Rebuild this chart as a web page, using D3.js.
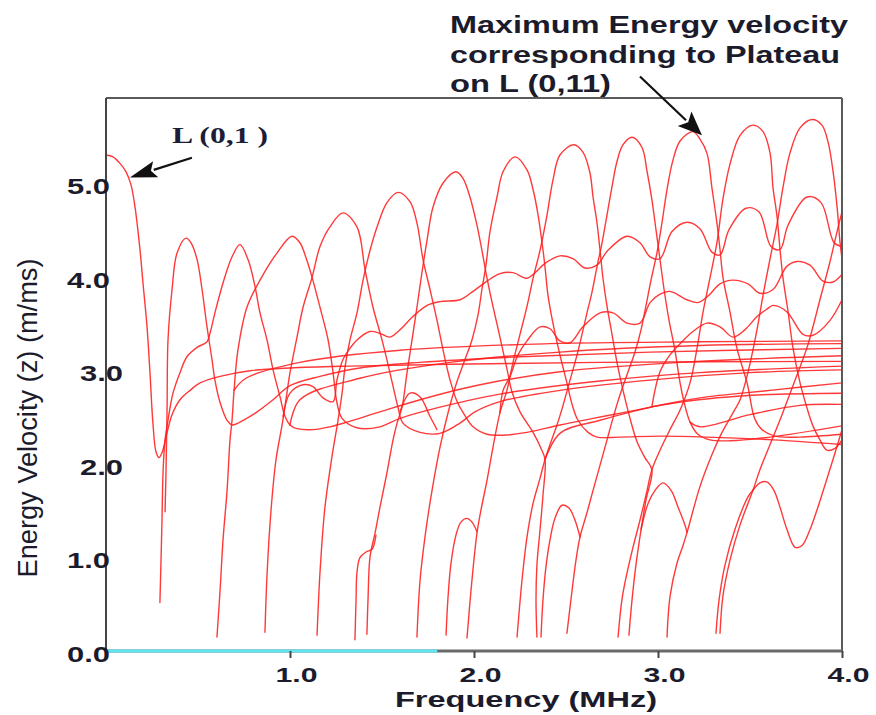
<!DOCTYPE html>
<html>
<head>
<meta charset="utf-8">
<script src="https://cdn.jsdelivr.net/npm/d3@7"></script>
<style>
  html, body { margin: 0; padding: 0; background: #ffffff; }
  svg { display: block; }
</style>
</head>
<body>
<svg id="chart" width="876" height="715"></svg>
<script>
// Energy velocity (m/ms) against frequency (MHz) for the longitudinal L(0,n) modes.
// Each branch is a list of [frequency, energyVelocity] pairs.

const xTicks = [1.0, 2.0, 3.0, 4.0];
const yTicks = [0.0, 1.0, 2.0, 3.0, 4.0, 5.0];
const cyanBandEnd = 1.8;

const lz01 = [[0,5.31],[0.038,5.29],[0.076,5.22],[0.109,5.13],[0.136,4.99],[0.158,4.75],[0.185,4.29],[0.201,3.94],[0.223,3.47],[0.239,2.98],[0.255,2.44],[0.272,2.13],[0.288,2.07],[0.304,2.12],[0.332,2.34],[0.359,2.53],[0.402,2.69],[0.457,2.79],[0.511,2.87],[0.620,2.94],[0.783,3.00],[1.000,3.03],[1.326,3.05],[1.870,3.07],[2.685,3.09],[4.000,3.10]];

const arch01 = [[0.321,1.49],[0.326,1.91],[0.332,2.61],[0.337,3.33],[0.359,3.87],[0.386,4.26],[0.435,4.42],[0.462,4.37],[0.495,4.19],[0.522,3.87],[0.549,3.47],[0.576,3.12],[0.592,2.90],[0.620,2.66],[0.658,2.47],[0.685,2.42],[0.755,2.48],[0.821,2.56],[0.908,2.69],[1.000,2.84],[1.163,2.94],[1.380,3.03],[1.707,3.09],[2.250,3.15],[2.957,3.20],[4.000,3.24]];

const arch02 = [[0.293,0.52],[0.299,0.97],[0.304,1.37],[0.310,1.91],[0.321,2.26],[0.337,2.47],[0.364,2.76],[0.402,2.98],[0.440,3.15],[0.495,3.25],[0.549,3.31],[0.565,3.40],[0.592,3.62],[0.636,3.94],[0.685,4.22],[0.728,4.35],[0.772,4.19],[0.810,3.90],[0.837,3.62],[0.875,3.33],[0.908,3.01],[0.946,2.72],[0.973,2.51],[1.000,2.42],[1.038,2.38],[1.125,2.37],[1.217,2.40],[1.310,2.45],[1.489,2.56],[1.707,2.69],[2.033,2.85],[2.467,2.99],[3.120,3.09],[4.000,3.16]];

const arch03 = [[0.603,0.15],[0.620,0.65],[0.636,1.19],[0.658,1.72],[0.674,2.26],[0.685,2.47],[0.696,2.79],[0.717,3.22],[0.766,3.68],[0.837,3.97],[0.929,4.26],[1.011,4.44],[1.054,4.37],[1.087,4.21],[1.120,4.00],[1.163,3.68],[1.207,3.33],[1.234,2.98],[1.255,2.66],[1.283,2.49],[1.364,2.39],[1.489,2.40],[1.598,2.49],[1.815,2.61],[2.141,2.75],[2.685,2.89],[3.228,2.98],[4.000,3.05]];

const arch04 = [[0.864,0.20],[0.875,0.81],[0.897,1.51],[0.924,2.05],[0.957,2.42],[0.978,2.69],[1.000,2.98],[1.038,3.36],[1.071,3.68],[1.120,4.00],[1.163,4.33],[1.217,4.54],[1.288,4.69],[1.364,4.54],[1.408,4.08],[1.451,3.68],[1.500,3.33],[1.543,2.98],[1.587,2.61],[1.614,2.44],[1.707,2.34],[1.815,2.33],[1.924,2.44],[2.005,2.56],[2.141,2.67],[2.467,2.79],[2.957,2.90],[3.500,2.98],[4.000,3.01]];

const arch05 = [[1.147,0.17],[1.163,0.84],[1.190,1.54],[1.228,2.08],[1.261,2.47],[1.283,2.76],[1.299,3.04],[1.326,3.33],[1.364,3.62],[1.397,3.97],[1.435,4.29],[1.473,4.54],[1.527,4.80],[1.587,4.91],[1.652,4.81],[1.690,4.58],[1.723,4.19],[1.761,3.87],[1.799,3.54],[1.832,3.22],[1.870,2.90],[1.908,2.67],[1.951,2.52],[1.995,2.40],[2.071,2.32],[2.158,2.31],[2.288,2.34],[2.467,2.42],[2.647,2.49],[2.832,2.56],[2.957,2.61],[3.228,2.71],[3.609,2.79],[4.000,2.87]];

const arch06 = [[1.418,0.18],[1.424,0.55],[1.435,1.01],[1.462,1.26],[1.489,1.54],[1.527,1.91],[1.560,2.26],[1.582,2.44],[1.609,2.61],[1.636,2.98],[1.663,3.33],[1.690,3.68],[1.717,4.05],[1.745,4.40],[1.777,4.75],[1.832,5.01],[1.902,5.13],[1.940,5.06],[1.978,4.86],[2.016,4.56],[2.043,4.29],[2.071,3.99],[2.103,3.69],[2.141,3.36],[2.179,3.02],[2.207,2.77],[2.250,2.56],[2.321,2.34],[2.364,2.17],[2.386,2.05],[2.375,1.67],[2.359,1.30],[2.342,0.92],[2.337,0.55],[2.342,0.15]];

const arch07 = [[1.690,0.15],[1.707,0.76],[1.739,1.30],[1.772,1.72],[1.815,2.18],[1.859,2.55],[1.902,2.85],[1.951,3.12],[1.989,3.33],[2.022,3.60],[2.043,3.87],[2.065,4.13],[2.087,4.49],[2.125,4.86],[2.158,5.13],[2.223,5.29],[2.288,5.15],[2.321,4.94],[2.348,4.67],[2.370,4.37],[2.386,4.11],[2.402,3.81],[2.429,3.51],[2.467,3.17],[2.505,2.87],[2.533,2.64],[2.565,2.47],[2.620,2.34],[2.668,2.29],[2.793,2.29],[3.011,2.30],[3.266,2.29],[3.625,2.26],[4.000,2.21]];

const arch08 = [[1.962,0.14],[1.989,0.76],[2.016,1.26],[2.038,1.51],[2.071,1.83],[2.103,2.18],[2.141,2.55],[2.179,2.79],[2.212,3.09],[2.250,3.39],[2.288,3.69],[2.321,3.99],[2.359,4.29],[2.397,4.67],[2.429,5.04],[2.467,5.31],[2.543,5.42],[2.592,5.34],[2.630,5.12],[2.647,4.86],[2.668,4.59],[2.685,4.29],[2.701,3.99],[2.723,3.69],[2.750,3.39],[2.777,3.09],[2.810,2.79],[2.848,2.49],[2.886,2.24],[2.929,2.07],[2.967,1.94],[2.935,1.62],[2.908,1.30],[2.880,0.92],[2.859,0.55],[2.842,0.17]];

const arch09 = [[2.234,0.15],[2.261,0.76],[2.288,1.22],[2.321,1.58],[2.359,1.85],[2.386,2.05],[2.413,2.21],[2.451,2.42],[2.484,2.63],[2.522,2.90],[2.560,3.17],[2.587,3.39],[2.614,3.62],[2.641,3.84],[2.668,4.11],[2.696,4.37],[2.723,4.67],[2.750,4.97],[2.777,5.24],[2.810,5.42],[2.859,5.50],[2.913,5.39],[2.940,5.14],[2.967,4.83],[2.989,4.51],[3.011,4.19],[3.033,3.87],[3.060,3.54],[3.092,3.22],[3.120,2.87],[3.141,2.67],[3.174,2.45],[3.217,2.32],[3.283,2.26],[3.391,2.25],[3.609,2.29],[4.000,2.41]];

const arch10 = [[2.505,0.19],[2.533,0.65],[2.554,0.97],[2.576,1.22],[2.614,1.48],[2.647,1.72],[2.685,1.99],[2.723,2.26],[2.755,2.49],[2.793,2.74],[2.832,2.96],[2.875,3.20],[2.908,3.44],[2.935,3.70],[2.962,3.97],[2.995,4.27],[3.022,4.59],[3.049,4.94],[3.082,5.26],[3.120,5.46],[3.190,5.56],[3.228,5.48],[3.266,5.33],[3.293,4.96],[3.321,4.57],[3.337,4.30],[3.353,4.00],[3.391,3.63],[3.429,3.24],[3.484,2.87],[3.527,2.48],[3.565,2.37],[3.636,2.30],[3.772,2.29],[4.000,2.32]];

const arch11 = [[2.783,0.15],[2.804,0.55],[2.832,0.84],[2.864,1.11],[2.902,1.40],[2.935,1.67],[2.967,1.94],[3.011,2.15],[3.065,2.37],[3.120,2.58],[3.174,2.87],[3.212,3.24],[3.245,3.63],[3.283,4.00],[3.321,4.38],[3.353,4.84],[3.391,5.21],[3.446,5.52],[3.516,5.63],[3.571,5.56],[3.609,5.33],[3.625,4.96],[3.647,4.65],[3.663,4.30],[3.679,4.00],[3.707,3.63],[3.734,3.24],[3.772,2.87],[3.810,2.60],[3.842,2.41],[3.880,2.26],[3.918,2.15],[3.962,2.17],[4.000,2.26]];

const arch12 = [[3.049,0.15],[3.065,0.58],[3.103,0.94],[3.136,1.13],[3.158,1.27],[3.228,1.76],[3.293,2.10],[3.348,2.34],[3.402,2.53],[3.446,2.69],[3.478,2.90],[3.505,3.12],[3.538,3.44],[3.571,3.81],[3.609,4.20],[3.647,4.57],[3.679,4.96],[3.717,5.33],[3.772,5.60],[3.837,5.69],[3.891,5.63],[3.924,5.45],[3.951,5.14],[3.973,4.76],[3.989,4.38],[4.000,4.20]];

const arch13 = [[3.337,0.19],[3.353,0.59],[3.391,0.97],[3.446,1.35],[3.516,1.72],[3.554,1.94],[3.609,2.21],[3.674,2.53],[3.745,2.90],[3.815,3.28],[3.880,3.76],[3.935,4.17],[3.978,4.53],[4.000,4.70]];

const arch13b = [[3.315,0.19],[3.332,0.55],[3.364,0.92],[3.418,1.30],[3.489,1.65],[3.516,1.72]];

const kink136 = [[1.353,0.12],[1.359,0.55],[1.364,0.84],[1.380,1.00],[1.413,1.06],[1.446,1.09],[1.467,1.24]];

const hump185 = [[1.848,0.17],[1.859,0.58],[1.875,0.94],[1.902,1.24],[1.929,1.38],[1.962,1.42],[1.989,1.38],[2.016,1.28]];

const hump236 = [[2.364,0.15],[2.375,0.55],[2.391,0.90],[2.413,1.19],[2.440,1.42],[2.478,1.56],[2.516,1.53],[2.549,1.40],[2.576,1.22]];

const hump290 = [[2.908,1.30],[2.946,1.58],[2.984,1.72],[3.027,1.80],[3.071,1.72],[3.109,1.54],[3.141,1.38],[3.158,1.27]];

const hump352 = [[3.516,1.72],[3.554,1.80],[3.592,1.81],[3.630,1.72],[3.663,1.54],[3.701,1.30],[3.745,1.11],[3.783,1.13],[3.826,1.30],[3.864,1.51],[3.908,1.78],[3.951,2.05],[4.000,2.37]];

const waveUpper = [[0.962,2.51],[1.000,2.76],[1.071,2.85],[1.125,2.83],[1.179,2.71],[1.234,2.67],[1.255,2.90],[1.288,3.12],[1.326,3.24],[1.364,3.33],[1.435,3.42],[1.489,3.40],[1.543,3.36],[1.598,3.44],[1.668,3.58],[1.745,3.70],[1.815,3.74],[1.924,3.76],[1.995,3.85],[2.071,3.96],[2.141,4.04],[2.212,4.05],[2.288,3.99],[2.332,4.05],[2.386,4.15],[2.467,4.23],[2.538,4.20],[2.603,4.10],[2.668,4.13],[2.728,4.29],[2.832,4.44],[2.902,4.37],[2.957,4.22],[3.011,4.20],[3.076,4.49],[3.158,4.59],[3.228,4.52],[3.293,4.27],[3.337,4.24],[3.386,4.51],[3.478,4.74],[3.549,4.70],[3.614,4.33],[3.663,4.30],[3.707,4.56],[3.810,4.86],[3.886,4.80],[3.957,4.37],[4.000,4.33]];

const waveMiddle = [[2.141,2.55],[2.158,2.79],[2.196,2.94],[2.239,3.17],[2.288,3.32],[2.359,3.47],[2.413,3.45],[2.467,3.32],[2.522,3.30],[2.592,3.47],[2.685,3.62],[2.755,3.62],[2.832,3.51],[2.902,3.51],[2.957,3.73],[3.011,3.82],[3.065,3.85],[3.158,3.76],[3.217,3.73],[3.272,3.80],[3.337,3.93],[3.408,3.97],[3.489,3.93],[3.554,3.83],[3.625,3.87],[3.701,4.12],[3.755,4.17],[3.826,4.13],[3.897,3.96],[3.951,3.95],[4.000,4.03]];

const waveLower = [[2.967,2.62],[3.011,2.99],[3.065,3.17],[3.120,3.29],[3.190,3.42],[3.266,3.51],[3.337,3.47],[3.408,3.36],[3.473,3.44],[3.538,3.58],[3.592,3.66],[3.625,3.70],[3.701,3.63],[3.788,3.39],[3.842,3.38],[3.935,3.54],[4.000,3.76]];

const hump160 = [[1.598,2.56],[1.652,2.76],[1.707,2.72],[1.761,2.51],[1.799,2.37]];

const plateau1 = [[0.696,2.79],[0.760,2.92],[1.054,3.09],[1.598,3.22],[2.413,3.29],[3.228,3.31],[4.000,3.32]];
const plateau2 = [[1.000,2.42],[1.054,2.69],[1.380,2.92],[1.870,3.09],[2.467,3.20],[3.228,3.27],[4.000,3.29]];
const rising1 = [[2.386,2.05],[2.467,2.33],[2.685,2.47],[3.011,2.63],[3.446,2.73],[4.000,2.76]];
const rising2 = [[3.174,2.45],[3.228,2.40],[3.500,2.53],[3.772,2.63],[4.000,2.64]];

const branches = [lz01, arch01, arch02, arch03, arch04, arch05, arch06, arch07, arch08,
  arch09, arch10, arch11, arch12, arch13, arch13b, kink136, hump185, hump236, hump290,
  hump352, waveUpper, waveMiddle, waveLower, hump160, plateau1, plateau2, rising1, rising2];

// Annotation anchor points, in data units.
const l01Arrow = { tail: [0.467, 5.28], tip: [0.130, 5.07] };
const plateauArrow = { tail: [2.902, 6.15], tip: [3.239, 5.52] };

const svg = d3.select("#chart");
const W = 876, H = 715;
const plotL = 106, plotR = 842, plotT = 98, plotB = 651;

const x = d3.scaleLinear().domain([0, 4]).range([plotL, plotR]);
const y = d3.scaleLinear().domain([0, 5.92]).range([plotB, plotT]);

svg.append("rect").attr("width", W).attr("height", H).attr("fill", "#ffffff");

svg.append("defs").append("clipPath").attr("id", "plotArea")
  .append("rect").attr("x", plotL).attr("y", plotT)
  .attr("width", plotR - plotL).attr("height", plotB - plotT);

const line = d3.line()
  .x(d => x(d[0]))
  .y(d => y(d[1]))
  .curve(d3.curveCatmullRom.alpha(0.5));

svg.append("g")
  .attr("clip-path", "url(#plotArea)")
  .selectAll("path")
  .data(branches)
  .join("path")
  .attr("d", line)
  .attr("fill", "none")
  .attr("stroke", "#ff1e1e")
  .attr("stroke-width", 1.4)
  .attr("stroke-opacity", 0.88)
  .attr("stroke-linejoin", "round")
  .attr("stroke-linecap", "round");

// Frame
const frame = svg.append("g");
frame.append("line").attr("x1", plotL).attr("x2", plotR).attr("y1", plotT).attr("y2", plotT)
  .attr("stroke", "#5a5a5a").attr("stroke-width", 2);
frame.append("line").attr("x1", plotR).attr("x2", plotR).attr("y1", plotT).attr("y2", plotB)
  .attr("stroke", "#5a5a5a").attr("stroke-width", 2);
frame.append("line").attr("x1", plotL).attr("x2", plotR).attr("y1", plotB).attr("y2", plotB)
  .attr("stroke", "#6a6a6a").attr("stroke-width", 3);
frame.append("line").attr("x1", x(0)).attr("x2", x(cyanBandEnd)).attr("y1", plotB).attr("y2", plotB)
  .attr("stroke", "#5fe6f2").attr("stroke-width", 3);
frame.append("line").attr("x1", plotL).attr("x2", plotL).attr("y1", plotT).attr("y2", plotB + 1)
  .attr("stroke", "#454545").attr("stroke-width", 2);

const labelFont = "'Liberation Sans', Arial, Helvetica, sans-serif";
const ink = "#1b1b2c";

// X axis
const gx = svg.append("g")
  .attr("transform", `translate(0,${plotB})`)
  .call(d3.axisBottom(x).tickValues(xTicks).tickSize(7).tickSizeOuter(0).tickFormat(d3.format(".1f")));
gx.select(".domain").remove();
gx.selectAll(".tick line").attr("stroke", "#444").attr("stroke-width", 2);
gx.selectAll(".tick text")
  .attr("y", 31).attr("dy", null).attr("dx", 6)
  .attr("fill", ink)
  .attr("font-family", labelFont).attr("font-weight", "bold").attr("font-size", 21)
  .attr("textLength", 42).attr("lengthAdjust", "spacingAndGlyphs");

// Y axis
const yShift = { 2: 13, 3: 13 };
const gy = svg.append("g")
  .attr("transform", `translate(${plotL},0)`)
  .call(d3.axisLeft(y).tickValues(yTicks).tickSize(0).tickPadding(-4).tickFormat(d3.format(".1f")));
gy.select(".domain").remove();
gy.selectAll(".tick text")
  .attr("dy", null).attr("y", 10)
  .attr("dx", d => yShift[d] || 0)
  .attr("fill", ink)
  .attr("font-family", labelFont).attr("font-weight", "bold").attr("font-size", 22)
  .attr("textLength", 43).attr("lengthAdjust", "spacingAndGlyphs");

// Axis titles
svg.append("text")
  .attr("x", 395).attr("y", 707)
  .attr("font-family", labelFont).attr("font-weight", "bold").attr("font-size", 22.5)
  .attr("fill", ink)
  .attr("textLength", 262).attr("lengthAdjust", "spacingAndGlyphs")
  .text("Frequency (MHz)");

svg.append("text")
  .attr("transform", "translate(37,418) rotate(-90)")
  .attr("text-anchor", "middle")
  .attr("font-family", labelFont).attr("font-size", 27)
  .attr("fill", ink)
  .attr("textLength", 319).attr("lengthAdjust", "spacingAndGlyphs")
  .text("Energy Velocity (z) (m/ms)");

// Annotations
const noteLines = [
  { text: "Maximum Energy velocity", yPos: 33, len: 398 },
  { text: "corresponding to Plateau", yPos: 63, len: 390 },
  { text: "on L (0,11)", yPos: 92, len: 161 }
];
svg.append("g").selectAll("text").data(noteLines).join("text")
  .attr("x", 450).attr("y", d => d.yPos)
  .attr("font-family", labelFont).attr("font-weight", "bold").attr("font-size", 23.5)
  .attr("fill", ink)
  .attr("textLength", d => d.len).attr("lengthAdjust", "spacingAndGlyphs")
  .text(d => d.text);

svg.append("text")
  .attr("x", 172).attr("y", 143)
  .attr("font-family", "'Liberation Serif', 'Times New Roman', serif")
  .attr("font-weight", "bold").attr("font-size", 23)
  .attr("fill", "#1d1d38")
  .attr("textLength", 96).attr("lengthAdjust", "spacingAndGlyphs")
  .text("L (0,1 )");

function arrow(spec, headLen, headHalf) {
  const tx = x(spec.tail[0]), ty = y(spec.tail[1]);
  const hx = x(spec.tip[0]), hy = y(spec.tip[1]);
  const dx = hx - tx, dy = hy - ty, len = Math.hypot(dx, dy);
  const ux = dx / len, uy = dy / len;
  const bx = hx - ux * headLen, by = hy - uy * headLen;
  const px = -uy * headHalf, py = ux * headHalf;
  const g = svg.append("g");
  g.append("line").attr("x1", tx).attr("y1", ty).attr("x2", bx + ux * 2).attr("y2", by + uy * 2)
    .attr("stroke", "#111").attr("stroke-width", 2.2);
  g.append("polygon")
    .attr("points", [[hx, hy], [bx + px, by + py], [bx + ux * 5, by + uy * 5], [bx - px, by - py]].map(p => p.join(",")).join(" "))
    .attr("fill", "#111");
}
arrow(l01Arrow, 27, 8.5);
arrow(plateauArrow, 24, 10);
</script>
</body>
</html>
